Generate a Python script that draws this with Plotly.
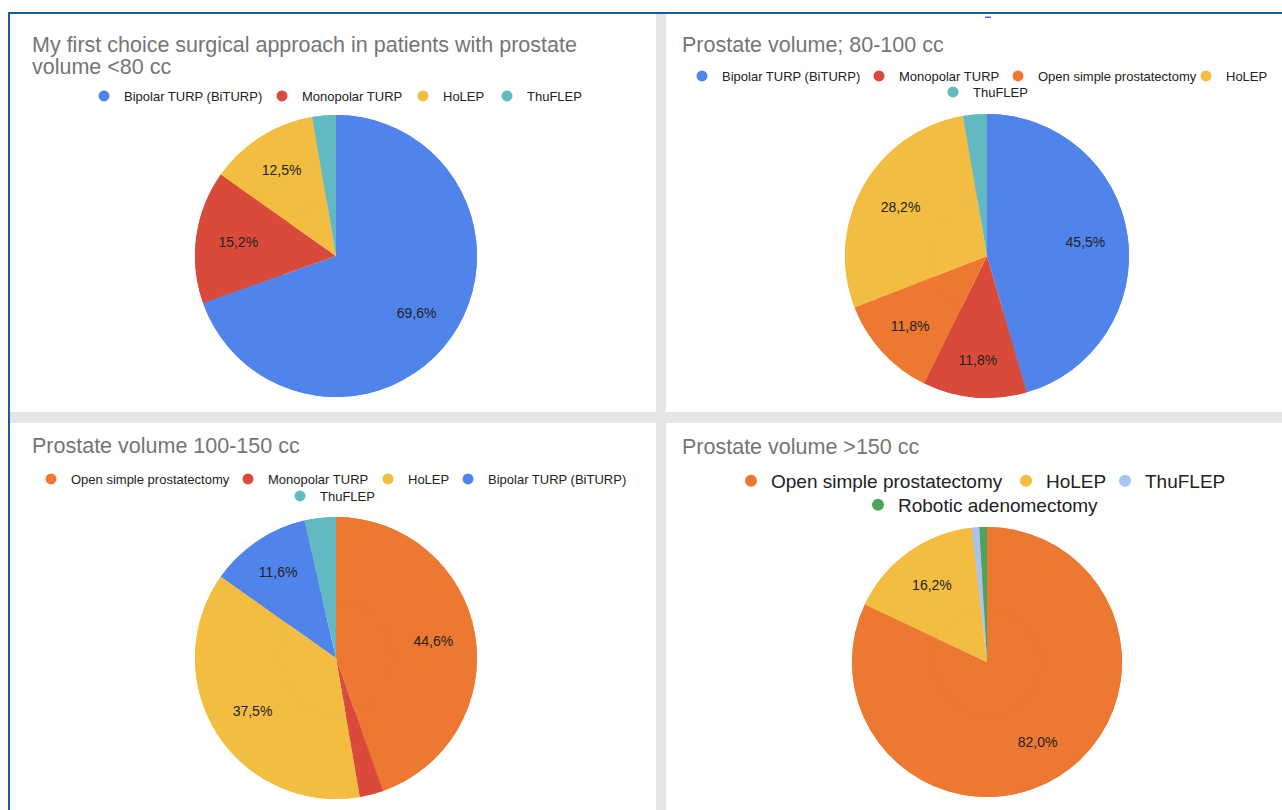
import plotly.graph_objects as go

W, H = 1282, 810

# ---- data ----
p1_title = ["My first choice surgical approach in patients with prostate", "volume <80 cc"]
p1_labels = ["Bipolar TURP (BiTURP)", "Monopolar TURP", "HoLEP", "ThuFLEP"]
p1_values = [69.6, 15.2, 12.5, 2.7]
p1_legend = ["Bipolar TURP (BiTURP)", "Monopolar TURP", "HoLEP", "ThuFLEP"]

p2_title = ["Prostate volume; 80-100 cc"]
p2_labels = ["Bipolar TURP (BiTURP)", "Monopolar TURP", "Open simple prostatectomy", "HoLEP", "ThuFLEP"]
p2_values = [45.5, 11.8, 11.8, 28.2, 2.7]
p2_legend = ["Bipolar TURP (BiTURP)", "Monopolar TURP", "Open simple prostatectomy", "HoLEP", "ThuFLEP"]

p3_title = ["Prostate volume 100-150 cc"]
p3_labels = ["Open simple prostatectomy", "Monopolar TURP", "HoLEP", "Bipolar TURP (BiTURP)", "ThuFLEP"]
p3_values = [44.6, 2.7, 37.5, 11.6, 3.6]
p3_legend = ["Open simple prostatectomy", "Monopolar TURP", "HoLEP", "Bipolar TURP (BiTURP)", "ThuFLEP"]

p4_title = ["Prostate volume >150 cc"]
p4_labels = ["Open simple prostatectomy", "HoLEP", "ThuFLEP", "Robotic adenomectomy"]
p4_values = [82.0, 16.2, 0.9, 0.9]
p4_legend = ["Open simple prostatectomy", "HoLEP", "ThuFLEP", "Robotic adenomectomy"]

colors_default = {
    "Bipolar TURP (BiTURP)": "#5084EA",
    "Monopolar TURP": "#DA4A3B",
    "HoLEP": "#F2BD41",
    "ThuFLEP": "#63B9C2",
    "Open simple prostatectomy": "#EC7832",
    "Robotic adenomectomy": "#4EA35A",
}
colors_p4 = dict(colors_default, ThuFLEP="#A9C2F0")

FONT = "Liberation Sans, Arial, sans-serif"

# ---- layout geometry (pixels): pie centre/radius, title position, legend entry text-start & row ----
panels = [
    dict(labels=p1_labels, values=p1_values, legend=p1_legend, title=p1_title, colors=colors_default,
         cx=336, cy=256, r=141, tx=30, ty=[45, 67],
         leg_pos=[(121, 96), (299, 96), (440, 96), (524, 96)], leg_font=13, msize=11),
    dict(labels=p2_labels, values=p2_values, legend=p2_legend, title=p2_title, colors=colors_default,
         cx=987, cy=256, r=142, tx=680, ty=[45],
         leg_pos=[(719, 76), (896, 76), (1035, 76), (1223, 76), (970, 92)], leg_font=13, msize=11),
    dict(labels=p3_labels, values=p3_values, legend=p3_legend, title=p3_title, colors=colors_default,
         cx=336, cy=658, r=141, tx=30, ty=[446],
         leg_pos=[(68, 479), (265, 479), (405, 479), (485, 479), (317, 496)], leg_font=13, msize=11),
    dict(labels=p4_labels, values=p4_values, legend=p4_legend, title=p4_title, colors=colors_p4,
         cx=987, cy=662, r=135, tx=680, ty=[447],
         leg_pos=[(768, 481), (1043, 481), (1142, 481), (895, 505)], leg_font=19, msize=12),
]

TEXT_OFFSET = 37  # legend box left -> text start in plotly legends (approx)


def fx(px):
    return px / W


def fy(py):
    return 1 - py / H


def fmt(v):
    return (f"{v:.1f}".replace(".", ",") + "%") if v >= 5 else ""


fig = go.Figure()
annotations = []
legends = {}
leg_idx = 0

for p in panels:
    dom = dict(x=[fx(p["cx"] - p["r"]), fx(p["cx"] + p["r"])],
               y=[fy(p["cy"] + p["r"]), fy(p["cy"] - p["r"])])
    cols = [p["colors"][l] for l in p["labels"]]
    # full pie underneath
    fig.add_trace(go.Pie(
        labels=p["labels"], values=p["values"], sort=False, direction="clockwise", rotation=0,
        marker=dict(colors=cols, line=dict(width=0)), textinfo="none",
        domain=dom, showlegend=False, hoverinfo="label+percent",
    ))
    # ring on top carrying the labels (places them at ~0.7 r like Google Charts)
    fig.add_trace(go.Pie(
        labels=p["labels"], values=p["values"], sort=False, direction="clockwise", rotation=0,
        hole=0.4,
        marker=dict(colors=cols, line=dict(width=0)),
        text=[fmt(v) for v in p["values"]], textinfo="text",
        textposition="inside", insidetextorientation="horizontal",
        textfont=dict(family=FONT, size=14, color="#222222"),
        domain=dom, showlegend=False, hoverinfo="label+percent",
    ))
    for line, ty in zip(p["title"], p["ty"]):
        annotations.append(dict(text=line, xref="paper", yref="paper", x=fx(p["tx"]), y=fy(ty),
                                xanchor="left", yanchor="middle", showarrow=False,
                                font=dict(family=FONT, size=21.5, color="#757575")))
    for lab, (lx, ly) in zip(p["legend"], p["leg_pos"]):
        leg_idx += 1
        key = "legend" if leg_idx == 1 else f"legend{leg_idx}"
        legends[key] = dict(orientation="h", x=fx(lx - TEXT_OFFSET), y=fy(ly), xanchor="left", yanchor="middle",
                            bgcolor="rgba(0,0,0,0)", borderwidth=0,
                            font=dict(family=FONT, size=p["leg_font"], color="#222222"),
                            itemclick=False, itemdoubleclick=False)
        fig.add_trace(go.Scatter(x=[None], y=[None], mode="markers", name=lab,
                                 marker=dict(color=p["colors"][lab], size=p["msize"], symbol="circle"),
                                 legend=key, showlegend=True, hoverinfo="skip"))

shapes = [
    # grey separators
    dict(type="rect", xref="paper", yref="paper", x0=fx(656), x1=fx(666), y0=fy(810), y1=fy(14),
         fillcolor="#E6E6E6", line=dict(width=0), layer="below"),
    dict(type="rect", xref="paper", yref="paper", x0=fx(10), x1=fx(1282), y0=fy(423), y1=fy(412),
         fillcolor="#E6E6E6", line=dict(width=0), layer="below"),
    # blue frame
    dict(type="rect", xref="paper", yref="paper", x0=fx(8), x1=fx(1282), y0=fy(14), y1=fy(12),
         fillcolor="#1C5A9C", line=dict(width=0), layer="below"),
    dict(type="rect", xref="paper", yref="paper", x0=fx(8), x1=fx(10), y0=fy(810), y1=fy(12),
         fillcolor="#1C5A9C", line=dict(width=0), layer="below"),
    dict(type="rect", xref="paper", yref="paper", x0=fx(985), x1=fx(991), y0=fy(18), y1=fy(16.5),
         fillcolor="#3C78C8", line=dict(width=0), layer="below"),
]

fig.update_layout(
    width=W, height=H, autosize=False, margin=dict(l=0, r=0, t=0, b=0, pad=0, autoexpand=False),
    paper_bgcolor="white", plot_bgcolor="rgba(0,0,0,0)",
    xaxis=dict(visible=False), yaxis=dict(visible=False),
    annotations=annotations, shapes=shapes,
    font=dict(family=FONT),
    **legends,
)

post = ("document.documentElement.style.margin='0';document.body.style.margin='0';"
        "document.documentElement.style.overflow='hidden';document.body.style.overflow='hidden';")

fig.write_html("out.html", config={"displayModeBar": False, "responsive": False}, post_script=post)
